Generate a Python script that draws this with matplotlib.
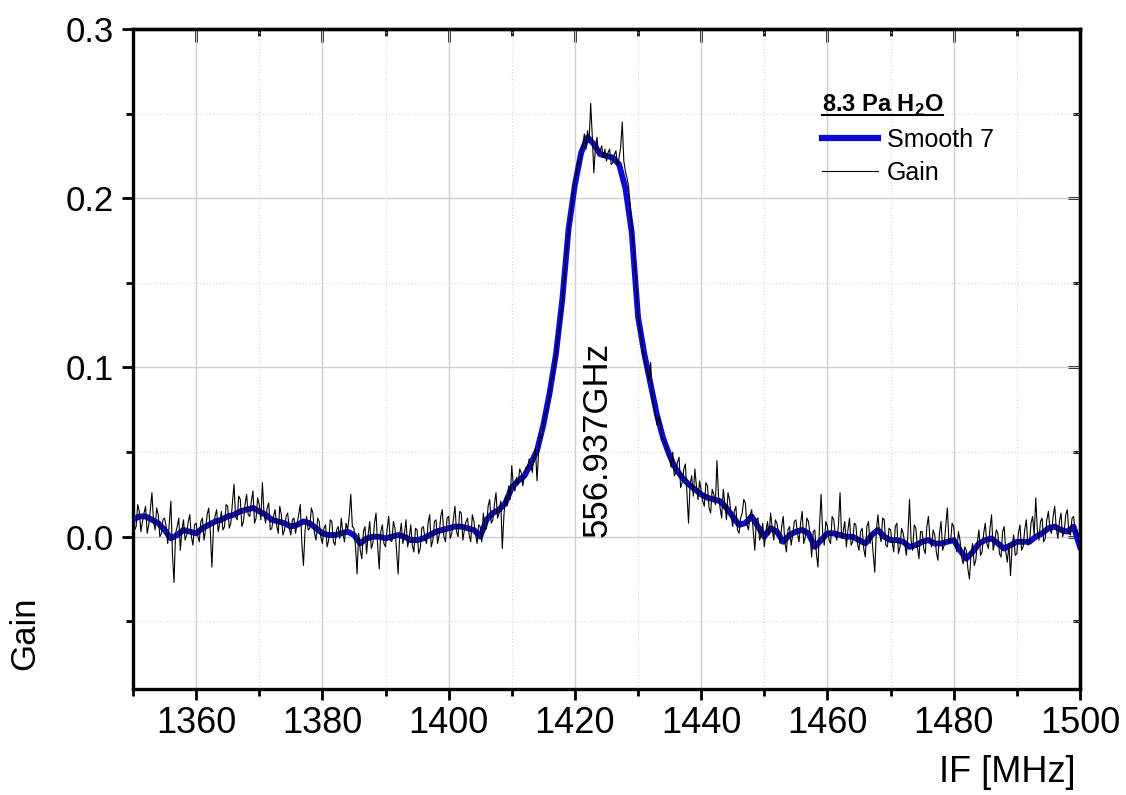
import numpy as np
import matplotlib
matplotlib.use("Agg")
import matplotlib.pyplot as plt
from matplotlib.ticker import MultipleLocator
from matplotlib.lines import Line2D

plt.rcParams['font.family'] = ['Liberation Sans', 'DejaVu Sans']
plt.rcParams['mathtext.fontset'] = 'custom'
plt.rcParams['mathtext.rm'] = 'Liberation Sans'
plt.rcParams['mathtext.bf'] = 'Liberation Sans:bold'

FREQ_START = 1350.0
GAIN_STEP = 0.25     # MHz between raw gain samples
SMOOTH_STEP = 1.0    # MHz between smoothed samples

# raw gain, 1350 .. 1500 MHz (one row = 5 MHz)
gain = [
    0.012, 0.004, 0.006, 0.019, 0.015, 0.003, 0.009, 0.014, 0.018, 0.002,
    0.007, 0.016, 0.026, 0.009, 0.004, 0.017, 0.013, 0.000, 0.002, 0.010,
    0.011, 0.006, -0.004, 0.008, 0.021, -0.010, -0.027, 0.002, 0.006, 0.011,
    -0.008, 0.004, 0.010, -0.002, 0.001, 0.009, 0.013, 0.000, -0.005, 0.007,
    0.008, 0.001, -0.003, 0.009, 0.011, -0.002, 0.004, 0.013, 0.017, 0.003,
    -0.018, 0.006, 0.012, 0.016, 0.003, 0.008, 0.015, 0.004, 0.006, 0.019,
    0.018, 0.005, 0.008, 0.020, 0.031, 0.012, 0.010, 0.024, 0.022, 0.006,
    0.009, 0.019, 0.025, 0.013, 0.012, 0.021, 0.027, 0.008, 0.011, 0.023,
    0.019, 0.010, 0.032, 0.014, 0.008, 0.017, 0.020, 0.004, 0.005, 0.012,
    0.016, 0.007, 0.002, 0.018, 0.013, 0.001, 0.004, 0.012, 0.014, 0.005,
    0.001, 0.010, 0.011, 0.002, 0.008, 0.013, 0.019, -0.004, -0.017, 0.003,
    0.012, 0.004, 0.005, 0.017, 0.014, 0.002, -0.002, 0.011, 0.009, 0.000,
    -0.004, 0.005, 0.007, -0.006, -0.002, 0.010, 0.009, -0.003, -0.005, 0.004,
    0.006, -0.001, 0.011, 0.002, -0.003, 0.008, 0.004, 0.012, 0.025, 0.006,
    0.005, -0.006, -0.022, 0.002, -0.008, -0.013, 0.003, 0.006, -0.010, 0.001,
    0.009, -0.007, -0.004, 0.008, 0.014, -0.005, -0.019, 0.003, 0.007, -0.004,
    -0.006, 0.004, 0.012, -0.002, -0.003, 0.009, 0.005, -0.008, -0.022, 0.001,
    0.008, -0.004, 0.002, 0.010, -0.006, -0.001, 0.007, -0.005, -0.009, 0.005,
    0.004, -0.010, -0.007, 0.005, 0.006, -0.001, -0.004, 0.008, 0.013, -0.006,
    -0.002, 0.009, 0.010, -0.004, 0.001, 0.012, 0.016, 0.000, -0.003, 0.011,
    0.012, -0.001, 0.002, 0.010, 0.018, 0.003, 0.000, 0.015, 0.014, -0.002,
    0.004, 0.009, 0.011, 0.001, -0.003, 0.013, 0.009, 0.002, -0.004, 0.007,
    0.006, -0.003, 0.014, 0.004, 0.005, 0.018, 0.022, 0.008, 0.010, 0.019,
    0.026, 0.011, 0.014, 0.021, -0.007, 0.012, 0.024, 0.018, 0.030, 0.022,
    0.042, 0.030, 0.027, 0.035, 0.031, 0.040, 0.038, 0.030, 0.036, 0.041,
    0.040, 0.046, 0.043, 0.038, 0.047, 0.052, 0.033, 0.050, 0.060, 0.058,
    0.066, 0.072, 0.074, 0.078, 0.083, 0.092, 0.095, 0.101, 0.108, 0.115,
    0.122, 0.129, 0.138, 0.148, 0.160, 0.171, 0.180, 0.188, 0.195, 0.204,
    0.210, 0.215, 0.222, 0.219, 0.226, 0.232, 0.238, 0.229, 0.240, 0.233,
    0.256, 0.237, 0.215, 0.230, 0.236, 0.226, 0.228, 0.231, 0.224, 0.229,
    0.222, 0.227, 0.229, 0.220, 0.221, 0.226, 0.228, 0.219, 0.224, 0.230,
    0.245, 0.222, 0.216, 0.212, 0.207, 0.196, 0.183, 0.172, 0.160, 0.147,
    0.133, 0.124, 0.118, 0.110, 0.104, 0.101, 0.097, 0.092, 0.103, 0.083,
    0.078, 0.073, 0.066, 0.071, 0.068, 0.060, 0.057, 0.056, 0.052, 0.049,
    0.046, 0.041, 0.050, 0.036, 0.038, 0.044, 0.047, 0.029, 0.032, 0.040,
    0.043, 0.025, 0.008, 0.031, 0.036, 0.024, 0.040, 0.030, 0.022, 0.033,
    0.027, 0.021, 0.018, 0.032, 0.030, 0.017, 0.014, 0.028, 0.025, 0.019,
    0.045, 0.024, 0.017, 0.011, 0.028, 0.020, 0.010, 0.026, 0.022, 0.012,
    0.006, 0.015, 0.018, 0.004, 0.002, 0.011, 0.014, 0.022, 0.020, 0.007,
    0.004, 0.013, 0.016, 0.003, -0.008, 0.010, 0.011, -0.002, 0.001, 0.008,
    -0.006, 0.003, 0.009, 0.001, 0.014, 0.005, -0.002, 0.010, 0.008, 0.002,
    -0.004, 0.006, 0.012, -0.003, -0.009, 0.004, 0.006, -0.005, 0.001, 0.009,
    0.010, 0.002, -0.003, 0.008, 0.015, -0.004, 0.000, 0.011, 0.009, 0.001,
    -0.012, 0.003, 0.004, -0.010, -0.018, 0.007, 0.025, 0.002, -0.005, 0.009,
    0.006, -0.002, -0.004, 0.012, 0.010, 0.001, -0.002, 0.007, 0.026, -0.001,
    0.003, 0.009, -0.006, 0.004, 0.011, -0.005, -0.003, 0.008, 0.007, -0.004,
    -0.008, 0.003, 0.005, -0.007, -0.012, 0.006, 0.009, -0.004, 0.002, -0.010,
    -0.021, 0.004, 0.013, 0.002, -0.003, 0.011, 0.010, -0.005, -0.006, 0.005,
    0.004, -0.003, -0.009, 0.006, 0.008, -0.010, -0.006, 0.005, 0.002, -0.004,
    -0.011, 0.001, 0.022, -0.002, -0.008, 0.007, 0.005, -0.006, -0.013, 0.003,
    0.003, -0.007, -0.010, 0.006, 0.012, -0.002, -0.006, 0.004, 0.001, -0.009,
    -0.014, 0.002, 0.009, -0.008, -0.005, 0.007, 0.017, -0.004, -0.003, 0.008,
    0.006, -0.005, -0.009, 0.003, -0.002, -0.012, -0.016, -0.006, -0.008, -0.019,
    -0.025, -0.010, -0.004, -0.017, -0.014, -0.003, 0.004, -0.011, -0.009, 0.002,
    0.008, -0.004, -0.007, 0.005, 0.013, -0.008, -0.003, 0.004, 0.002, -0.010,
    -0.012, 0.003, 0.006, -0.009, -0.015, -0.004, -0.023, -0.006, 0.001, -0.011,
    -0.010, 0.002, 0.007, -0.008, -0.006, 0.004, 0.010, -0.005, -0.004, 0.008,
    0.012, 0.001, 0.023, 0.004, -0.002, 0.009, 0.011, -0.003, -0.001, 0.010,
    0.015, 0.004, 0.002, 0.012, 0.018, 0.005, -0.001, 0.009, 0.014, 0.000,
    0.003, 0.013, 0.016, 0.002, 0.001, 0.011, 0.012, 0.003, 0.004, 0.001,
    -0.012,
]

# "Smooth 7" curve, 1350 .. 1500 MHz
smooth = [
    0.010, 0.012, 0.012, 0.010, 0.008, 0.004, -0.001, 0.001, 0.004, 0.003,
    0.002, 0.005, 0.007, 0.009, 0.010, 0.012, 0.013, 0.015, 0.016, 0.017,
    0.015, 0.013, 0.010, 0.009, 0.008, 0.006, 0.007, 0.009, 0.008, 0.005,
    0.002, 0.001, 0.001, 0.002, 0.003, 0.001, -0.004, -0.001, 0.000, 0.000,
    -0.001, 0.000, 0.001, 0.000, -0.002, -0.002, -0.001, 0.001, 0.003, 0.004,
    0.005, 0.006, 0.006, 0.005, 0.004, 0.000, 0.010, 0.014, 0.016, 0.020,
    0.029, 0.033, 0.036, 0.043, 0.051, 0.066, 0.085, 0.108, 0.140, 0.182,
    0.208, 0.227, 0.236, 0.232, 0.226, 0.225, 0.224, 0.220, 0.206, 0.180,
    0.130, 0.108, 0.090, 0.072, 0.058, 0.048, 0.040, 0.035, 0.031, 0.028,
    0.025, 0.023, 0.022, 0.021, 0.017, 0.012, 0.007, 0.008, 0.012, 0.006,
    0.000, 0.005, 0.003, -0.003, 0.001, 0.003, 0.004, 0.002, -0.006, -0.002,
    0.002, 0.002, 0.001, 0.000, 0.000, -0.002, -0.004, 0.001, 0.004, 0.000,
    -0.002, -0.002, -0.003, -0.006, -0.005, -0.003, -0.002, -0.004, -0.004, -0.003,
    -0.002, -0.008, -0.013, -0.009, -0.004, -0.002, -0.001, -0.004, -0.007, -0.005,
    -0.003, -0.003, -0.003, 0.000, 0.002, 0.005, 0.006, 0.004, 0.003, 0.006,
    -0.006,
]

LINE_FREQ = 1423.5
LINE_LABEL = "556.937GHz"

freq_gain = FREQ_START + GAIN_STEP * np.arange(len(gain))
freq_smooth = FREQ_START + SMOOTH_STEP * np.arange(len(smooth))

fig = plt.figure(figsize=(11.26, 7.95), dpi=100)
ax = fig.add_axes([0.1181, 0.1333, 0.8410, 0.8302])

ax.plot(freq_smooth, smooth, color='#0b0bd2', lw=4.2, zorder=3)
ax.plot(freq_gain, gain, color='black', lw=0.8, zorder=4)

ax.set_xlim(1350, 1500)
ax.set_ylim(-0.09, 0.3)
ax.xaxis.set_major_locator(MultipleLocator(20))
ax.xaxis.set_minor_locator(MultipleLocator(10))
ax.yaxis.set_major_locator(MultipleLocator(0.1))
ax.yaxis.set_minor_locator(MultipleLocator(0.05))
ax.yaxis.set_major_formatter(lambda v, p: f"{v:.1f}")

ax.grid(which='major', color='#cfcfcf', lw=1.0)
ax.grid(which='minor', color='#dcdcdc', lw=0.9, ls=':')
ax.set_axisbelow(True)

for s in ax.spines.values():
    s.set_linewidth(2.4)

ax.tick_params(which='both', direction='out', width=2, top=False, right=False)
ax.tick_params(which='major', length=8)
ax.tick_params(which='minor', length=5)
ax.tick_params(axis='y', labelsize=25, pad=6)
ax.tick_params(axis='x', labelsize=26, pad=4)

# inward ticks on top and right
top = ax.secondary_xaxis('top')
top.xaxis.set_major_locator(MultipleLocator(20))
top.xaxis.set_minor_locator(MultipleLocator(10))
top.tick_params(which='major', direction='in', width=2, length=9, labeltop=False)
top.tick_params(which='minor', direction='in', width=2, length=5)
top.spines['top'].set_linewidth(2.4)
right = ax.secondary_yaxis('right')
right.yaxis.set_major_locator(MultipleLocator(0.1))
right.yaxis.set_minor_locator(MultipleLocator(0.05))
right.tick_params(which='major', direction='in', width=2, length=9, labelright=False)
right.tick_params(which='minor', direction='in', width=2, length=5)
right.spines['right'].set_linewidth(2.4)

ax.set_ylabel("Gain", fontsize=25)
ax.yaxis.set_label_coords(-0.097, 0.085)
ax.set_xlabel("IF [MHz]", fontsize=26, ha='right')
ax.xaxis.set_label_coords(0.995, -0.1)

ax.text(LINE_FREQ, 0.0, LINE_LABEL, rotation=90, ha='center', va='bottom', fontsize=25)

handles = [Line2D([], [], color='#0b0bd2', lw=4.5), Line2D([], [], color='black', lw=0.8)]
leg = ax.legend(handles, ['Smooth 7', 'Gain'], title=r'8.3 Pa H$_\mathbf{2}$O',
                loc='upper left', bbox_to_anchor=(0.7275, 0.903), frameon=False,
                fontsize=18, title_fontproperties={'weight': 'bold', 'size': 17},
                handlelength=2.25, handletextpad=0.36, labelspacing=0.38,
                borderpad=0, borderaxespad=0, alignment='left')

fig.canvas.draw()
bb = leg.get_title().get_window_extent()
W, H = fig.get_size_inches() * fig.dpi
uy = (bb.y0 + 3) / H
fig.add_artist(Line2D([bb.x0 / W, bb.x1 / W], [uy, uy], color='black', lw=1.5))

fig.savefig('out.png', dpi=100)
